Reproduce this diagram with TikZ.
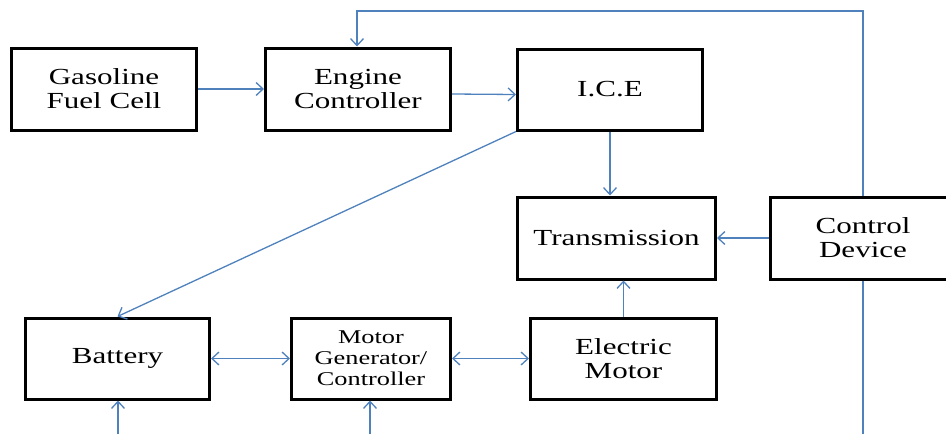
\documentclass[tikz,border=0pt]{standalone}
\usepackage{fontspec}
\setmainfont[FakeStretch=1.35]{Liberation Serif}
\usetikzlibrary{arrows.meta}
\definecolor{linkblue}{RGB}{79,129,189}
\tikzset{
  box/.style={draw=black, line width=3pt, rectangle, align=center, inner sep=0pt,
    font=\fontsize{23}{24}\selectfont},
  conn/.style={draw=linkblue, line width=1.3pt, -{Straight Barb[length=7pt,width=13pt,line width=1.3pt]}},
  conn2/.style={draw=linkblue, line width=1.3pt, {Straight Barb[length=7pt,width=13pt,line width=1.3pt]}-{Straight Barb[length=7pt,width=13pt,line width=1.3pt]}},
  plain/.style={draw=linkblue, line width=1.3pt}
}
\begin{document}
\begin{tikzpicture}[x=1pt,y=-1pt]
\useasboundingbox (0,0) rectangle (946,434);
\clip (0,0) rectangle (946,434);
\node[box, minimum width=185, minimum height=82] (gas) at (104,89) {Gasoline\\Fuel Cell};
\node[box, minimum width=185, minimum height=82] (eng) at (358,89) {Engine\\Controller};
\node[box, minimum width=185, minimum height=81] (ice) at (610,89.5) {I.C.E};
\node[box, minimum width=198, minimum height=82] (trans) at (616.5,238) {Transmission};
\node[box, minimum width=186, minimum height=82] (ctrl) at (863,238) {Control\\Device};
\node[box, minimum width=184, minimum height=81] (bat) at (117.5,358.5) {Battery};
\node[box, minimum width=159, minimum height=81, font=\fontsize{19.5}{21}\selectfont] (mg) at (371,358.5) {Motor\\Generator/\\Controller};
\node[box, minimum width=186, minimum height=81] (em) at (623.5,358.5) {Electric\\Motor};
\coordinate (top) at (863,11);
\coordinate (b1) at (118,434);
\coordinate (b2) at (370,434);
\coordinate (b3) at (863,434);
\draw[conn] (gas.east) -- (eng.west);
\draw[conn] ([yshift=-5pt]eng.east) -- ([yshift=-5pt]ice.west);
\draw[conn] (ctrl.north) -- (ctrl.north |- top) -| ([xshift=-1pt]eng.north);
\draw[conn] (ice.south west) -- (bat.north);
\draw[conn] (ice.south) -- (ice.south |- trans.north);
\draw[conn] (ctrl.west) -- (trans.west -| trans.east);
\draw[conn] (em.north) -- (em.north |- trans.south);
\draw[conn2] (bat.east) -- (mg.west);
\draw[conn2] (mg.east) -- (em.west);
\draw[conn] (b1) -- (b1 |- bat.south);
\draw[conn] (b2) -- (b2 |- mg.south);
\draw[plain] (ctrl.south) -- (b3);
\end{tikzpicture}
\end{document}
